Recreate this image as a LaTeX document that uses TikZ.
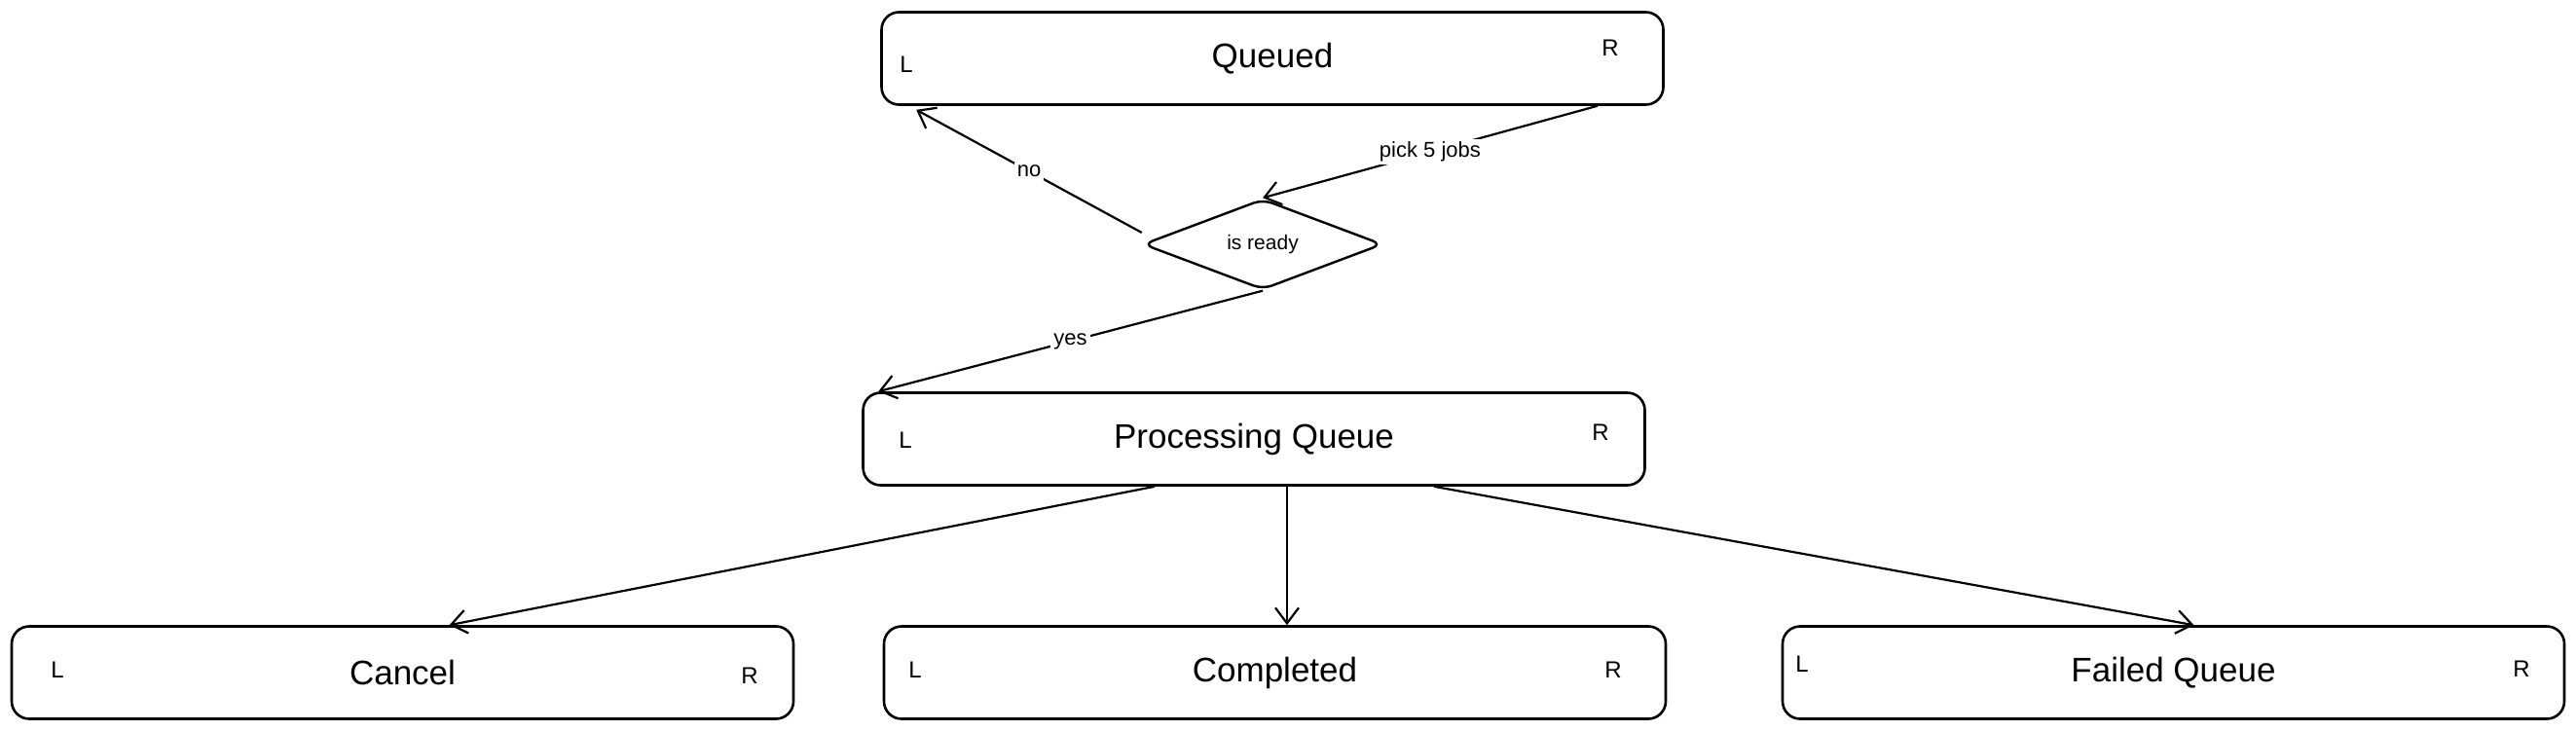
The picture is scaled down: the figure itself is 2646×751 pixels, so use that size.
\documentclass[tikz,border=0pt]{standalone}
\usepackage{fontspec}
\setmainfont{Liberation Sans}
\usetikzlibrary{arrows.meta,shapes.geometric}
\tikzset{
  box/.style={draw=black, line width=2.6pt, rounded corners=18pt, minimum width=803pt, minimum height=95pt, inner sep=0pt, font=\fontsize{35}{40}\selectfont},
  side/.style={inner sep=0pt, font=\fontsize{24}{27}\selectfont},
  dec/.style={draw=black, line width=2.4pt, shape=diamond, aspect=2.65, minimum width=246pt, minimum height=93pt, inner sep=0pt, rounded corners=10pt, font=\fontsize{21}{24}\selectfont},
  conn/.style={draw=black, line width=2.2pt, -{Straight Barb[length=16pt,width=24pt,line width=2.2pt]}},
  elabel/.style={fill=white, inner sep=3pt, font=\fontsize{22}{25}\selectfont}
}
\begin{document}
\begin{tikzpicture}[x=1pt,y=-1pt]
\useasboundingbox (0,0) rectangle (2646,751);
% boxes
\node[box] (q) at (1307,60) {Queued};
\node[box] (p) at (1288,451) {Processing Queue};
\node[box] (c) at (413.5,691) {Cancel};
\node[box] (m) at (1309.5,691) {Completed};
\node[box] (f) at (2232.5,691) {Failed Queue};
\node[dec] (d) at (1297,251) {is ready};
% L / R markers
\node[side] (qL) at (931,66) {L};
\node[side] (qR) at (1654,49) {R};
\node[side] (pL) at (930,452) {L};
\node[side] (pR) at (1644,444) {R};
\node[side] (cL) at (59,688) {L};
\node[side] (cR) at (770,694) {R};
\node[side] (mL) at (940,688) {L};
\node[side] (mR) at (1657,688) {R};
\node[side] (fL) at (1851,682) {L};
\node[side] (fR) at (2590,687) {R};
% connectors
\draw[conn] ([xshift=-69pt]q.south east) -- (d.north) node[elabel, pos=0.5] (l1) {pick 5 jobs};
\draw[conn] ([yshift=12pt]d.west) -- ([xshift=37pt,yshift=-4pt]q.south west) node[elabel, pos=0.5] (l2) {no};
\draw[conn] (d.south) -- ([xshift=17pt]p.north west) node[elabel, pos=0.5] (l3) {yes};
\draw[conn] ([xshift=-102pt]p.south) -- ([xshift=48pt]c.north);
\draw[conn] ([xshift=34pt]p.south) -- ([xshift=12.5pt]m.north);
\draw[conn] ([xshift=185pt]p.south) -- ([xshift=21pt]f.north);
\end{tikzpicture}
\end{document}
